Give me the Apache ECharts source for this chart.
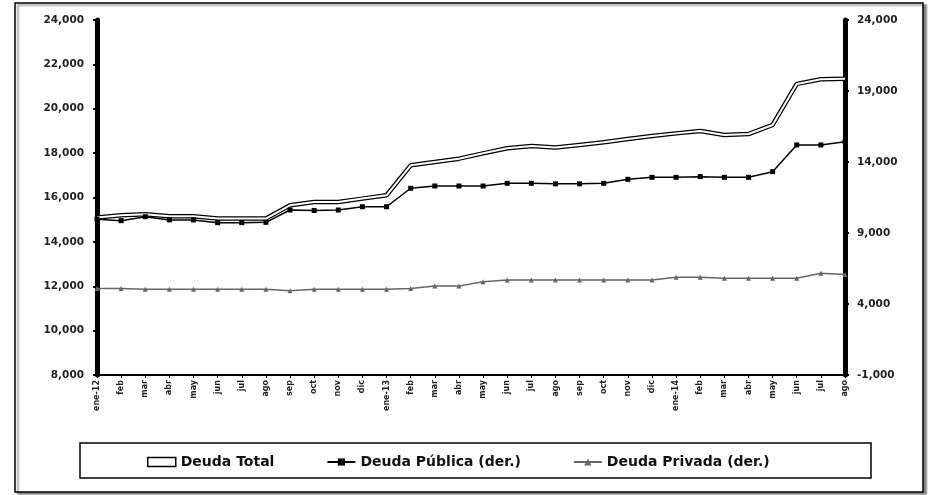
<!DOCTYPE html>
<html>
<head>
<meta charset="utf-8">
<script src="https://cdn.jsdelivr.net/npm/echarts@6/dist/echarts.min.js"></script>
<style>
  html, body { margin: 0; padding: 0; background: #fff; }
  #chart { width: 928px; height: 495px; }
</style>
</head>
<body>
<div id="chart"></div>
<script>
var meses = ['ene-12','feb','mar','abr','may','jun','jul','ago','sep','oct','nov','dic',
             'ene-13','feb','mar','abr','may','jun','jul','ago','sep','oct','nov','dic',
             'ene-14','feb','mar','abr','may','jun','jul','ago'];

// Deuda total (eje izquierdo)
var deudaTotal = [15100,15200,15250,15150,15150,15050,15050,15050,15650,15800,15800,15950,
                  16100,17450,17600,17750,17990,18220,18320,18250,18370,18490,18640,18770,
                  18890,19000,18820,18860,19270,21120,21330,21350];
// Deuda pública (eje derecho)
var deudaPublica = [9970,9870,10150,9920,9920,9730,9730,9750,10620,10590,10620,10850,
                    10850,12150,12310,12310,12310,12500,12500,12460,12460,12500,12780,12920,
                    12920,12970,12920,12920,13320,15200,15200,15430];
// Deuda privada (eje derecho)
var deudaPrivada = [5100,5100,5040,5040,5040,5040,5040,5040,4940,5040,5040,5040,
                    5040,5100,5270,5270,5570,5690,5690,5690,5690,5690,5690,5690,
                    5880,5880,5820,5820,5820,5820,6160,6080];

var ticksIzq = { min: 8000, max: 24000, interval: 2000 };
var ticksDer = { min: -1000, max: 24000, interval: 5000 };

var myChart = echarts.init(document.getElementById('chart'));

var fmt = function (v) { return v.toLocaleString('en-US'); };
var yFont = { fontFamily: 'DejaVu Sans', fontWeight: 'bold', fontSize: 10.5, color: '#222' };
var xFont = { fontFamily: 'DejaVu Sans', fontWeight: 'bold', fontSize: 8, color: '#222' };

var option = {
    animation: false,
    grid: { left: 97, right: 83, top: 20, bottom: 120 },
    graphic: [
        { type: 'rect', shape: { x: 15, y: 3, width: 908, height: 489 },
          style: { fill: '#fff', stroke: '#000', lineWidth: 1.5, shadowColor: 'rgba(0,0,0,0.45)', shadowOffsetX: 3, shadowOffsetY: 2, shadowBlur: 2 }, z: -1 },
        { type: 'rect', shape: { x: 80, y: 443, width: 791, height: 35 },
          style: { fill: 'none', stroke: '#000', lineWidth: 1.5 } }
    ],
    legend: {
        left: 142, top: 450,
        itemWidth: 28, itemHeight: 9, itemGap: 52,
        textStyle: { fontFamily: 'DejaVu Sans', fontWeight: 'bold', fontSize: 14, color: '#111' },
        data: [
            { name: 'Deuda Total', icon: 'rect', itemStyle: { color: '#fff', borderColor: '#000', borderWidth: 1.5 } },
            { name: 'Deuda Pública (der.)' },
            { name: 'Deuda Privada (der.)' }
        ]
    },
    xAxis: {
        type: 'category',
        data: meses,
        boundaryGap: false,
        axisLine: { onZero: false, lineStyle: { color: '#000', width: 2 } },
        axisTick: { show: true, alignWithLabel: true, length: 3, lineStyle: { color: '#000' } },
        axisLabel: Object.assign({ rotate: 90, interval: 0, margin: 5 }, xFont),
        splitLine: { show: false }
    },
    yAxis: [
        {
            type: 'value', position: 'left',
            min: ticksIzq.min, max: ticksIzq.max, interval: ticksIzq.interval,
            axisLine: { show: true, lineStyle: { color: '#000', width: 5 } },
            axisTick: { show: true, length: 4, lineStyle: { color: '#000', width: 2 } },
            axisLabel: Object.assign({ formatter: fmt, margin: 13 }, yFont),
            splitLine: { show: false }
        },
        {
            type: 'value', position: 'right',
            min: ticksDer.min, max: ticksDer.max, interval: ticksDer.interval,
            axisLine: { show: true, lineStyle: { color: '#000', width: 5 } },
            axisTick: { show: true, length: 4, lineStyle: { color: '#000', width: 2 } },
            axisLabel: Object.assign({ formatter: fmt, margin: 12 }, yFont),
            splitLine: { show: false }
        }
    ],
    series: [
        {
            name: 'Deuda Total', type: 'line', yAxisIndex: 0,
            data: deudaTotal, showSymbol: false, symbol: 'none',
            lineStyle: { color: '#000', width: 4.5 }, itemStyle: { color: '#000' }, z: 2
        },
        {
            name: 'Deuda Total (interior)', type: 'line', yAxisIndex: 0,
            data: deudaTotal, showSymbol: false, symbol: 'none',
            lineStyle: { color: '#fff', width: 2 }, itemStyle: { color: '#fff' }, z: 3
        },
        {
            name: 'Deuda Pública (der.)', type: 'line', yAxisIndex: 1,
            data: deudaPublica, symbol: 'rect', symbolSize: 5,
            lineStyle: { color: '#000', width: 1.5 }, itemStyle: { color: '#000' }, z: 4
        },
        {
            name: 'Deuda Privada (der.)', type: 'line', yAxisIndex: 1,
            data: deudaPrivada, symbol: 'triangle', symbolSize: 5,
            lineStyle: { color: '#666', width: 1.5 }, itemStyle: { color: '#666' }, z: 4
        }
    ]
};

myChart.setOption(option);
</script>
</body>
</html>
